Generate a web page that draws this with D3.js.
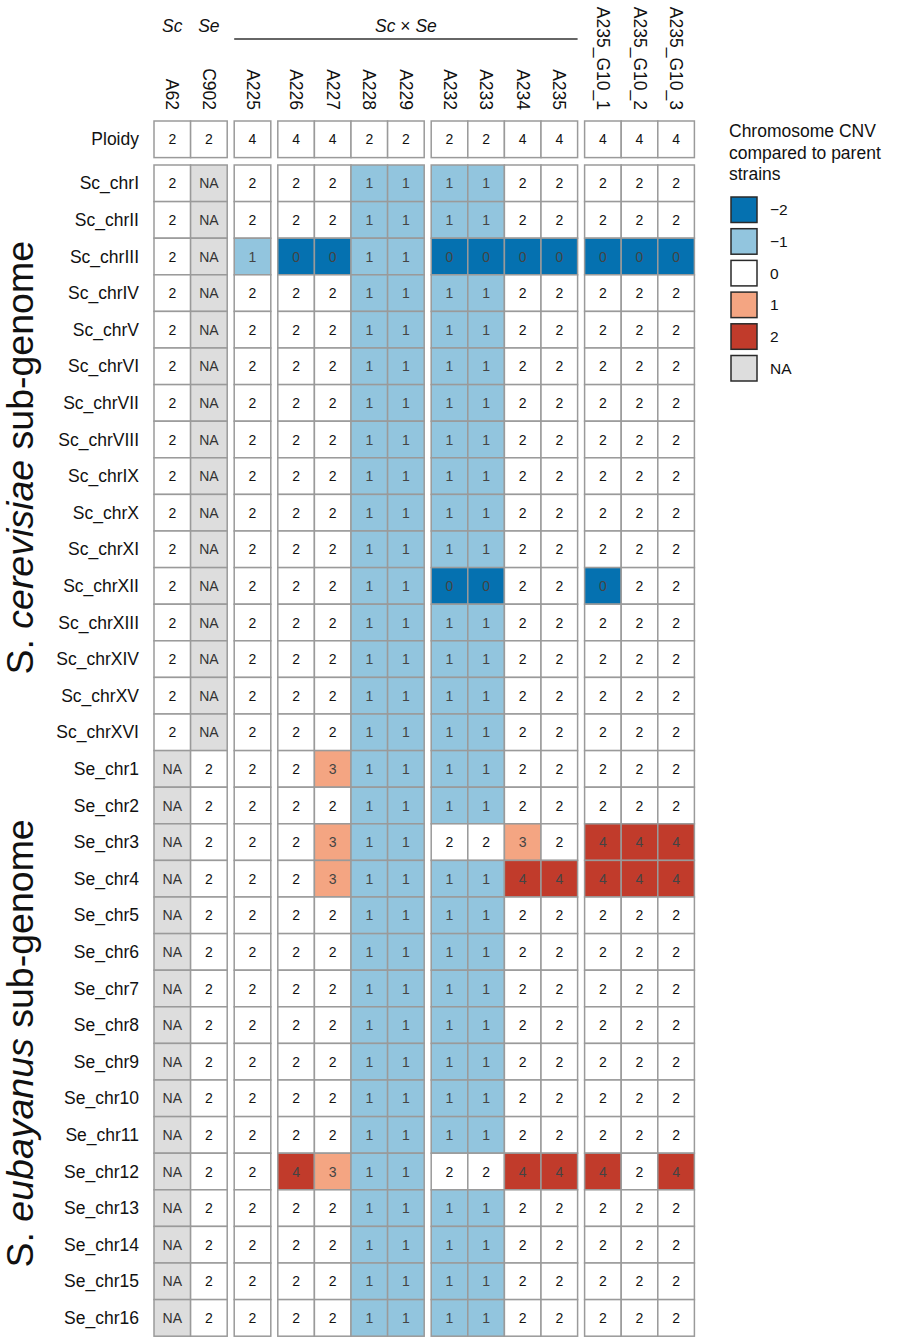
<!DOCTYPE html>
<html>
<head>
<meta charset="utf-8">
<script src="https://cdn.jsdelivr.net/npm/d3@7/dist/d3.min.js"></script>
<style>
  body { margin: 0; background: #fff; }
  text { font-family: "Liberation Sans", Arial, sans-serif; }
</style>
</head>
<body>
<svg id="chart" width="905" height="1339"></svg>
<script>
(function(){

// strains, in column order
var strains = ["A62", "C902", "A225", "A226", "A227", "A228", "A229",
	"A232", "A233", "A234", "A235", "A235_G10_1", "A235_G10_2", "A235_G10_3"];
// column split index for each strain
var strainGroup = [0, 0, 1, 2, 2, 2, 2, 3, 3, 3, 3, 4, 4, 4];

var ploidy = [2, 2, 4, 4, 4, 2, 2, 2, 2, 4, 4, 4, 4, 4];

var scChroms = ["Sc_chrI", "Sc_chrII", "Sc_chrIII", "Sc_chrIV", "Sc_chrV", "Sc_chrVI",
	"Sc_chrVII", "Sc_chrVIII", "Sc_chrIX", "Sc_chrX", "Sc_chrXI", "Sc_chrXII",
	"Sc_chrXIII", "Sc_chrXIV", "Sc_chrXV", "Sc_chrXVI"];
var seChroms = ["Se_chr1", "Se_chr2", "Se_chr3", "Se_chr4", "Se_chr5", "Se_chr6",
	"Se_chr7", "Se_chr8", "Se_chr9", "Se_chr10", "Se_chr11", "Se_chr12",
	"Se_chr13", "Se_chr14", "Se_chr15", "Se_chr16"];

// chromosome copy numbers (null = NA)
var scCopies = [
	[2, null, 2, 2, 2, 1, 1, 1, 1, 2, 2, 2, 2, 2],
	[2, null, 2, 2, 2, 1, 1, 1, 1, 2, 2, 2, 2, 2],
	[2, null, 1, 0, 0, 1, 1, 0, 0, 0, 0, 0, 0, 0],
	[2, null, 2, 2, 2, 1, 1, 1, 1, 2, 2, 2, 2, 2],
	[2, null, 2, 2, 2, 1, 1, 1, 1, 2, 2, 2, 2, 2],
	[2, null, 2, 2, 2, 1, 1, 1, 1, 2, 2, 2, 2, 2],
	[2, null, 2, 2, 2, 1, 1, 1, 1, 2, 2, 2, 2, 2],
	[2, null, 2, 2, 2, 1, 1, 1, 1, 2, 2, 2, 2, 2],
	[2, null, 2, 2, 2, 1, 1, 1, 1, 2, 2, 2, 2, 2],
	[2, null, 2, 2, 2, 1, 1, 1, 1, 2, 2, 2, 2, 2],
	[2, null, 2, 2, 2, 1, 1, 1, 1, 2, 2, 2, 2, 2],
	[2, null, 2, 2, 2, 1, 1, 0, 0, 2, 2, 0, 2, 2],
	[2, null, 2, 2, 2, 1, 1, 1, 1, 2, 2, 2, 2, 2],
	[2, null, 2, 2, 2, 1, 1, 1, 1, 2, 2, 2, 2, 2],
	[2, null, 2, 2, 2, 1, 1, 1, 1, 2, 2, 2, 2, 2],
	[2, null, 2, 2, 2, 1, 1, 1, 1, 2, 2, 2, 2, 2]
];
var seCopies = [
	[null, 2, 2, 2, 3, 1, 1, 1, 1, 2, 2, 2, 2, 2],
	[null, 2, 2, 2, 2, 1, 1, 1, 1, 2, 2, 2, 2, 2],
	[null, 2, 2, 2, 3, 1, 1, 2, 2, 3, 2, 4, 4, 4],
	[null, 2, 2, 2, 3, 1, 1, 1, 1, 4, 4, 4, 4, 4],
	[null, 2, 2, 2, 2, 1, 1, 1, 1, 2, 2, 2, 2, 2],
	[null, 2, 2, 2, 2, 1, 1, 1, 1, 2, 2, 2, 2, 2],
	[null, 2, 2, 2, 2, 1, 1, 1, 1, 2, 2, 2, 2, 2],
	[null, 2, 2, 2, 2, 1, 1, 1, 1, 2, 2, 2, 2, 2],
	[null, 2, 2, 2, 2, 1, 1, 1, 1, 2, 2, 2, 2, 2],
	[null, 2, 2, 2, 2, 1, 1, 1, 1, 2, 2, 2, 2, 2],
	[null, 2, 2, 2, 2, 1, 1, 1, 1, 2, 2, 2, 2, 2],
	[null, 2, 2, 4, 3, 1, 1, 2, 2, 4, 4, 4, 2, 4],
	[null, 2, 2, 2, 2, 1, 1, 1, 1, 2, 2, 2, 2, 2],
	[null, 2, 2, 2, 2, 1, 1, 1, 1, 2, 2, 2, 2, 2],
	[null, 2, 2, 2, 2, 1, 1, 1, 1, 2, 2, 2, 2, 2],
	[null, 2, 2, 2, 2, 1, 1, 1, 1, 2, 2, 2, 2, 2]
];

var legendLevels = ["\u22122", "\u22121", "0", "1", "2", "NA"];
var legendColors = ["#0571b0", "#92c5de", "#ffffff", "#f4a582", "#c13b2b", "#dddddd"];


var CELL_W = 36.6,
	CELL_H = 36.6,
	GAP = 7,
	LEFT = 154,
	PLOIDY_TOP = 121,
	BODY_TOP = 165,
	FONT = "'Liberation Sans', Arial, sans-serif",
	CELL_STROKE = "#9a9a9a";

var svg = d3.select("#chart");

var x = d3.scaleBand()
	.domain(strains)
	.range([LEFT, LEFT + strains.length * CELL_W]);

function colX(i) {
	return x(strains[i]) + strainGroup[i] * GAP;
}

var rowNames = scChroms.concat(seChroms);
var copies = scCopies.concat(seCopies);

var y = d3.scaleBand()
	.domain(rowNames)
	.range([BODY_TOP, BODY_TOP + rowNames.length * CELL_H]);

// CNV relative to the 2 copies of the parent strains
var cnvColor = d3.scaleOrdinal()
	.domain([-2, -1, 0, 1, 2])
	.range(legendColors.slice(0, 5));

function fillFor(v) {
	if(v === null) { return legendColors[5]; }
	return cnvColor(Math.max(-2, Math.min(2, v - 2)));
}

function textFill(v) {
	if(v === null) { return "#333"; }
	return (v === 2) ? "#111" : "#444";
}

// ploidy row
var ploidyG = svg.append("g");
ploidy.forEach(function(p, i) {
	ploidyG.append("rect")
		.attr("x", colX(i)).attr("y", PLOIDY_TOP)
		.attr("width", CELL_W).attr("height", CELL_H)
		.attr("fill", "#fff")
		.attr("stroke", CELL_STROKE).attr("stroke-width", 1.5);
	ploidyG.append("text")
		.attr("x", colX(i) + CELL_W / 2).attr("y", PLOIDY_TOP + CELL_H / 2)
		.attr("text-anchor", "middle").attr("dominant-baseline", "central")
		.attr("font-size", 14).attr("fill", "#111")
		.text(p);
});

// heatmap body
var cells = [];
copies.forEach(function(row, r) {
	row.forEach(function(v, c) {
		cells.push({ row: rowNames[r], col: c, value: v });
	});
});

var body = svg.append("g");
body.selectAll("rect")
	.data(cells)
	.enter().append("rect")
	.attr("x", function(d) { return colX(d.col); })
	.attr("y", function(d) { return y(d.row); })
	.attr("width", CELL_W)
	.attr("height", y.bandwidth())
	.attr("fill", function(d) { return fillFor(d.value); })
	.attr("stroke", CELL_STROKE)
	.attr("stroke-width", 1.5);

body.selectAll("text")
	.data(cells)
	.enter().append("text")
	.attr("x", function(d) { return colX(d.col) + CELL_W / 2; })
	.attr("y", function(d) { return y(d.row) + y.bandwidth() / 2; })
	.attr("text-anchor", "middle")
	.attr("dominant-baseline", "central")
	.attr("font-size", 14)
	.attr("fill", function(d) { return textFill(d.value); })
	.text(function(d) { return d.value === null ? "NA" : d.value; });

// row labels
svg.append("text")
	.attr("x", 139).attr("y", PLOIDY_TOP + CELL_H / 2)
	.attr("text-anchor", "end").attr("dominant-baseline", "central")
	.attr("font-size", 17.5).attr("fill", "#111")
	.text("Ploidy");

svg.append("g").selectAll("text")
	.data(rowNames)
	.enter().append("text")
	.attr("x", 139)
	.attr("y", function(d) { return y(d) + y.bandwidth() / 2; })
	.attr("text-anchor", "end")
	.attr("dominant-baseline", "central")
	.attr("font-size", 17.5)
	.attr("fill", "#111")
	.text(function(d) { return d; });

// column labels, read top to bottom
svg.append("g").selectAll("text")
	.data(strains)
	.enter().append("text")
	.attr("transform", function(d, i) {
		return "translate(" + (colX(i) + CELL_W / 2) + ",110) rotate(90)";
	})
	.attr("text-anchor", "end")
	.attr("dominant-baseline", "central")
	.attr("font-size", 17.5)
	.attr("fill", "#111")
	.text(function(d) { return d; });

// species header above columns
var header = svg.append("g")
	.attr("font-size", 17.5)
	.attr("font-style", "italic")
	.attr("fill", "#111")
	.attr("text-anchor", "middle");

header.append("text")
	.attr("x", colX(0) + CELL_W / 2).attr("y", 32)
	.text("Sc");
header.append("text")
	.attr("x", colX(1) + CELL_W / 2).attr("y", 32)
	.text("Se");

var hybridX0 = colX(2), hybridX1 = colX(10) + CELL_W;
var hyb = header.append("text")
	.attr("x", (hybridX0 + hybridX1) / 2).attr("y", 32);
hyb.append("tspan").text("Sc");
hyb.append("tspan").attr("font-style", "normal").text(" \u00d7 ");
hyb.append("tspan").text("Se");

svg.append("line")
	.attr("x1", hybridX0).attr("x2", hybridX1)
	.attr("y1", 39).attr("y2", 39)
	.attr("stroke", "#333").attr("stroke-width", 1.6);

// sub-genome labels
function subgenomeLabel(species, names) {
	var top = y(names[0]);
	var bottom = y(names[names.length - 1]) + y.bandwidth();
	var t = svg.append("text")
		.attr("transform", "translate(33," + ((top + bottom) / 2) + ") rotate(-90)")
		.attr("text-anchor", "middle")
		.attr("font-size", 37.5)
		.attr("fill", "#111");
	t.append("tspan").text("S. ");
	t.append("tspan").attr("font-style", "italic").text(species);
	t.append("tspan").text(" sub-genome");
}
subgenomeLabel("cerevisiae", scChroms);
subgenomeLabel("eubayanus", seChroms);

// legend
var legend = svg.append("g");
["Chromosome CNV", "compared to parent", "strains"].forEach(function(line, i) {
	legend.append("text")
		.attr("x", 729).attr("y", 137 + i * 21.5)
		.attr("font-size", 17.5).attr("fill", "#111")
		.text(line);
});

var legendY = d3.scaleBand()
	.domain(legendLevels)
	.range([194, 194 + legendLevels.length * 31.7]);

legend.selectAll("rect")
	.data(legendLevels)
	.enter().append("rect")
	.attr("x", 731)
	.attr("y", function(d) { return legendY(d) + 3; })
	.attr("width", 26)
	.attr("height", 25.5)
	.attr("fill", function(d, i) { return legendColors[i]; })
	.attr("stroke", "#2a2a2a")
	.attr("stroke-width", 1.5);

legend.selectAll("text.level")
	.data(legendLevels)
	.enter().append("text")
	.attr("class", "level")
	.attr("x", 770)
	.attr("y", function(d) { return legendY(d) + 3 + 12.75; })
	.attr("dominant-baseline", "central")
	.attr("font-size", 15.5)
	.attr("fill", "#111")
	.text(function(d) { return d; });

})();
</script>
</body>
</html>
